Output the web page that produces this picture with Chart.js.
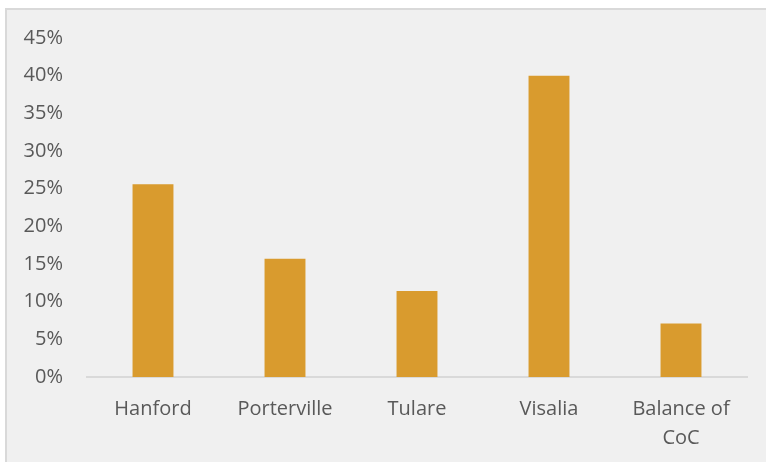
<!DOCTYPE html>
<html>
<head>
<meta charset="utf-8">
<script src="https://cdn.jsdelivr.net/npm/chart.js@4"></script>
<style>
  body { margin: 0; background: #ffffff; overflow: hidden; }
  #frame {
    position: absolute; left: 5px; top: 8px;
    width: 761px; height: 454px;
    border-top: 2px solid #D9D9D9; border-left: 2px solid #D9D9D9;
    background: #F0F0F0;
  }
</style>
</head>
<body>
<div id="frame"><canvas id="barChart" width="759" height="452"></canvas></div>
<script>
// Share by area
var categories = ['Hanford', 'Porterville', 'Tulare', 'Visalia', ['Balance of', 'CoC']];
var shares = [25.6, 15.7, 11.4, 40.0, 7.1];
var yTicks = [0, 5, 10, 15, 20, 25, 30, 35, 40, 45];

var ctx = document.getElementById('barChart').getContext('2d');
var barChart = new Chart(ctx, {
    type: 'bar',
    data: {
        labels: categories,
        datasets: [{
            data: shares,
            backgroundColor: '#D99B2E',
            barPercentage: 0.31,
            categoryPercentage: 1
        }]
    },
    options: {
        responsive: false,
        animation: false,
        layout: { padding: { top: 28, right: 19, bottom: 0, left: 0 } },
        plugins: {
            legend: { display: false },
            tooltip: { enabled: false }
        },
        scales: {
            x: {
                grid: { display: false, drawTicks: false },
                border: { color: '#D9D9D9', width: 2 },
                ticks: {
                    color: '#595959',
                    padding: 18,
                    maxRotation: 0,
                    autoSkip: false,
                    font: { family: 'Open Sans', size: 20, lineHeight: 1.45 }
                },
                afterFit: function (scale) {
                    scale.height = 85;
                    scale.paddingLeft = 0;
                    scale.paddingRight = 0;
                }
            },
            y: {
                min: 0,
                max: 45,
                grid: { display: false, drawTicks: false },
                border: { display: false },
                afterBuildTicks: function (scale) {
                    scale.ticks = yTicks.map(function (v) { return { value: v }; });
                },
                ticks: {
                    color: '#595959',
                    padding: 24,
                    font: { family: 'Open Sans', size: 20 },
                    callback: function (v) { return v + '%'; }
                },
                afterFit: function (scale) {
                    scale.width = 80;
                    scale.paddingTop = 0;
                    scale.paddingBottom = 0;
                }
            }
        }
    }
});
</script>
</body>
</html>
